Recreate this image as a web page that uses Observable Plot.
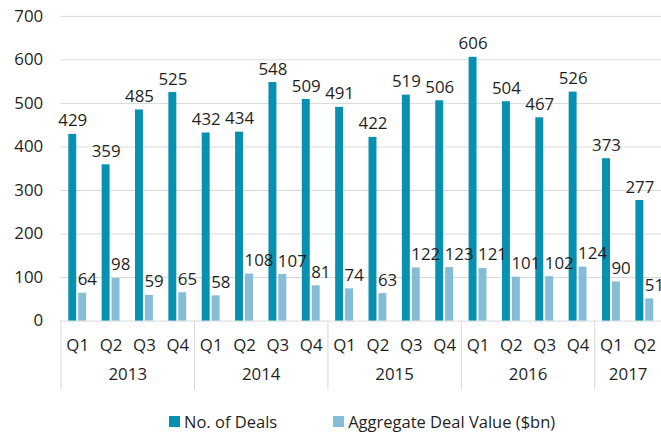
<!DOCTYPE html>
<html><head><meta charset="utf-8">
<script src="https://cdn.jsdelivr.net/npm/d3@7"></script>
<script src="https://cdn.jsdelivr.net/npm/@observablehq/plot@0.6"></script>
<style>
html,body{margin:0;padding:0;background:#fff;overflow:hidden;}
#chart{width:661px;height:434px;overflow:hidden;position:relative;font-family:"Open Sans",sans-serif;}
.legend{display:flex;align-items:center;padding-left:169px;padding-top:2px;height:26px;font-size:16.5px;color:#1f1f1f;font-family:"Open Sans",sans-serif;}
.item{display:flex;align-items:center;margin-right:56px;}
.sw{width:11px;height:11px;margin-right:4px;}
</style>
</head><body>
<div id="chart"></div>
<script>
const quarters = ["Q1","Q2","Q3","Q4","Q1","Q2","Q3","Q4","Q1","Q2","Q3","Q4","Q1","Q2","Q3","Q4","Q1","Q2"];
const yearOf = ["2013","2013","2013","2013","2014","2014","2014","2014","2015","2015","2015","2015","2016","2016","2016","2016","2017","2017"];
const deals = [429,359,485,525,432,434,548,509,491,422,519,506,606,504,467,526,373,277];
const values = [64,98,59,65,58,108,107,81,74,63,122,123,121,101,102,124,90,51];
const seriesNames = ["No. of Deals","Aggregate Deal Value ($bn)"];
const colors = ["#0790b0","#85bdd6"];
const yTicks = [0,100,200,300,400,500,600,700];

const table = quarters.map((q,i)=>({i, q, year: yearOf[i], deals: deals[i], value: values[i]}));
const boundaries = table.filter((d,i)=> i===0 || yearOf[i]!==yearOf[i-1]).map(d=>d.i-0.5).concat([table.length-0.5]);
const textColor = "#1f1f1f";

const chart = Plot.plot({
  width: 666, height: 410,
  marginLeft: 61, marginRight: 0, marginTop: 16, marginBottom: 87,
  style: {fontFamily: "'Open Sans', sans-serif", fontSize: "17px", color: textColor, background: "#fff", overflow: "visible"},
  x: {type: "linear", domain: [-0.5, table.length - 0.5]},
  y: {domain: [0, 700]},
  marks: [
    Plot.gridY(yTicks.filter(t=>t>0), {stroke: "#d9d9d9", strokeOpacity: 1}),
    Plot.axisY(yTicks, {tickSize: 0, tickPadding: 18, label: null, fill: textColor}),
    Plot.ruleY([0], {stroke: "#d9d9d9"}),
    Plot.axisX({ticks: boundaries, tickSize: 70, tickFormat: () => "", stroke: "#d9d9d9", strokeOpacity: 1, label: null}),
    Plot.axisX({ticks: table.map(d=>d.i), tickSize: 0, tickPadding: 18, tickFormat: i => quarters[i], label: null, fill: textColor}),
    Plot.text(table, Plot.groupZ({x: "mean", text: "first"}, {x: "i", z: "year", text: "year", frameAnchor: "bottom", dy: 59, fill: textColor})),
    Plot.rectY(table, {x1: d=>d.i-0.5, x2: d=>d.i+0.5, y: "deals", fill: colors[0], insetLeft: 7.8, insetRight: 17.8}),
    Plot.rectY(table, {x1: d=>d.i-0.5, x2: d=>d.i+0.5, y: "value", fill: colors[1], insetLeft: 17.8, insetRight: 7.8}),
    Plot.text(table, {x: "i", y: "deals", text: d=>String(d.deals), dx: -5, lineAnchor: "bottom", dy: -8, fill: textColor}),
    Plot.text(table, {x: "i", y: "value", text: d=>String(d.value), textAnchor: "start", dx: 0, lineAnchor: "bottom", dy: -8, fill: textColor})
  ]
});
const root = document.getElementById("chart");
root.appendChild(chart);
const legend = document.createElement("div");
legend.className = "legend";
seriesNames.forEach((n,k)=>{
  const it = document.createElement("div"); it.className = "item";
  const sw = document.createElement("div"); sw.className = "sw"; sw.style.background = colors[k];
  const t = document.createElement("span"); t.textContent = n;
  it.appendChild(sw); it.appendChild(t); legend.appendChild(it);
});
root.appendChild(legend);
</script>
</body></html>
